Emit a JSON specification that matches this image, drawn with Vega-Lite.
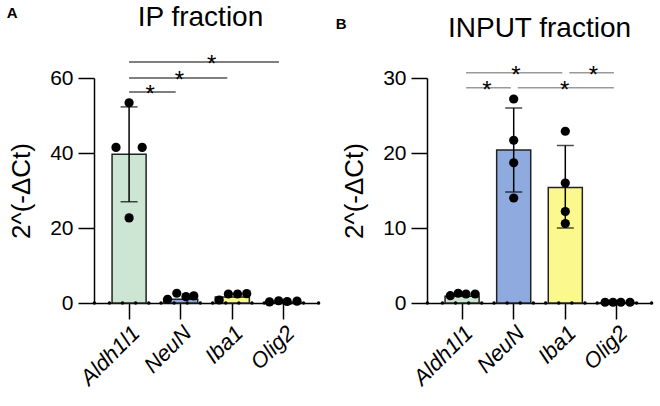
{
  "$schema": "https://vega.github.io/schema/vega-lite/v6.json",
  "background": "white",
  "padding": {"left": 6, "top": 3, "right": 5, "bottom": 5},
  "spacing": 14,
  "config": {
    "font": "Liberation Sans",
    "view": {"stroke": null},
    "axis": {"domainColor": "black", "domainWidth": 1.5, "tickColor": "black", "tickWidth": 1.5, "tickSize": 16, "labelFontSize": 21, "labelColor": "black", "titleFontSize": 26, "titleFontWeight": "normal", "titleColor": "black", "grid": false, "labelFont": "Liberation Sans", "titleFont": "Liberation Sans"},
    "axisX": {"labelAngle": -45, "labelFontStyle": "italic", "labelPadding": 3, "labelFontSize": 22},
    "axisY": {"labelPadding": 5, "titlePadding": 15}
  },
  "datasets": {
    "pts": [
      {"panel": "A", "gene": "Aldh1l1", "type": "bar", "v": 39.7, "lo": 27.0, "hi": 52.3},
      {"panel": "A", "gene": "NeuN", "type": "bar", "v": 1.0},
      {"panel": "A", "gene": "Iba1", "type": "bar", "v": 1.6},
      {"panel": "A", "gene": "Olig2", "type": "bar", "v": 0.2},
      {"panel": "A", "gene": "Aldh1l1", "type": "pt", "v": 53.4, "off": 0},
      {"panel": "A", "gene": "Aldh1l1", "type": "pt", "v": 41.5, "off": -1},
      {"panel": "A", "gene": "Aldh1l1", "type": "pt", "v": 41.5, "off": 1},
      {"panel": "A", "gene": "Aldh1l1", "type": "pt", "v": 22.7, "off": 0},
      {"panel": "A", "gene": "NeuN", "type": "pt", "v": 1.0, "off": -1},
      {"panel": "A", "gene": "NeuN", "type": "pt", "v": 2.6, "off": -0.3},
      {"panel": "A", "gene": "NeuN", "type": "pt", "v": 1.7, "off": 0.4},
      {"panel": "A", "gene": "NeuN", "type": "pt", "v": 1.9, "off": 1},
      {"panel": "A", "gene": "Iba1", "type": "pt", "v": 0.8, "off": -1},
      {"panel": "A", "gene": "Iba1", "type": "pt", "v": 2.4, "off": -0.3},
      {"panel": "A", "gene": "Iba1", "type": "pt", "v": 2.4, "off": 0.4},
      {"panel": "A", "gene": "Iba1", "type": "pt", "v": 2.5, "off": 1.1},
      {"panel": "A", "gene": "Olig2", "type": "pt", "v": 0.3, "off": -1.1},
      {"panel": "A", "gene": "Olig2", "type": "pt", "v": 0.6, "off": -0.4},
      {"panel": "A", "gene": "Olig2", "type": "pt", "v": 0.4, "off": 0.25},
      {"panel": "A", "gene": "Olig2", "type": "pt", "v": 0.5, "off": 1.0},
      {"panel": "A", "gene": "Aldh1l1", "type": "dot", "v": 0, "off": -2.65},
      {"panel": "A", "gene": "Aldh1l1", "type": "dot", "v": 0, "off": -1.5},
      {"panel": "A", "gene": "Aldh1l1", "type": "dot", "v": 0, "off": -0.5},
      {"panel": "A", "gene": "Aldh1l1", "type": "dot", "v": 0, "off": 0.5},
      {"panel": "A", "gene": "Aldh1l1", "type": "dot", "v": 0, "off": 1.5},
      {"panel": "A", "gene": "NeuN", "type": "dot", "v": 0, "off": -1.5},
      {"panel": "A", "gene": "NeuN", "type": "dot", "v": 0, "off": -0.5},
      {"panel": "A", "gene": "NeuN", "type": "dot", "v": 0, "off": 0.5},
      {"panel": "A", "gene": "NeuN", "type": "dot", "v": 0, "off": 1.5},
      {"panel": "A", "gene": "Iba1", "type": "dot", "v": 0, "off": -1.5},
      {"panel": "A", "gene": "Iba1", "type": "dot", "v": 0, "off": -0.5},
      {"panel": "A", "gene": "Iba1", "type": "dot", "v": 0, "off": 0.5},
      {"panel": "A", "gene": "Iba1", "type": "dot", "v": 0, "off": 1.5},
      {"panel": "A", "gene": "Olig2", "type": "dot", "v": 0, "off": -1.5},
      {"panel": "A", "gene": "Olig2", "type": "dot", "v": 0, "off": -0.5},
      {"panel": "A", "gene": "Olig2", "type": "dot", "v": 0, "off": 0.5},
      {"panel": "A", "gene": "Olig2", "type": "dot", "v": 0, "off": 1.5},
      {"panel": "A", "gene": "Olig2", "type": "dot", "v": 0, "off": 2.65},
      {"panel": "B", "gene": "Aldh1l1", "type": "bar", "v": 0.9},
      {"panel": "B", "gene": "NeuN", "type": "bar", "v": 20.4, "lo": 14.8, "hi": 26.0},
      {"panel": "B", "gene": "Iba1", "type": "bar", "v": 15.4, "lo": 10.0, "hi": 21.0},
      {"panel": "B", "gene": "Olig2", "type": "bar", "v": 0.05},
      {"panel": "B", "gene": "Aldh1l1", "type": "pt", "v": 0.97, "off": -0.9},
      {"panel": "B", "gene": "Aldh1l1", "type": "pt", "v": 1.3, "off": -0.3},
      {"panel": "B", "gene": "Aldh1l1", "type": "pt", "v": 1.2, "off": 0.3},
      {"panel": "B", "gene": "Aldh1l1", "type": "pt", "v": 1.2, "off": 1.0},
      {"panel": "B", "gene": "NeuN", "type": "pt", "v": 27.2, "off": 0},
      {"panel": "B", "gene": "NeuN", "type": "pt", "v": 21.7, "off": 0},
      {"panel": "B", "gene": "NeuN", "type": "pt", "v": 18.7, "off": 0},
      {"panel": "B", "gene": "NeuN", "type": "pt", "v": 14.0, "off": 0},
      {"panel": "B", "gene": "Iba1", "type": "pt", "v": 22.9, "off": 0},
      {"panel": "B", "gene": "Iba1", "type": "pt", "v": 16.0, "off": 0},
      {"panel": "B", "gene": "Iba1", "type": "pt", "v": 12.2, "off": 0},
      {"panel": "B", "gene": "Iba1", "type": "pt", "v": 10.6, "off": 0},
      {"panel": "B", "gene": "Olig2", "type": "pt", "v": 0.1, "off": -0.9},
      {"panel": "B", "gene": "Olig2", "type": "pt", "v": 0.1, "off": -0.3},
      {"panel": "B", "gene": "Olig2", "type": "pt", "v": 0.1, "off": 0.3},
      {"panel": "B", "gene": "Olig2", "type": "pt", "v": 0.1, "off": 1.0},
      {"panel": "B", "gene": "Aldh1l1", "type": "dot", "v": 0, "off": -2.65},
      {"panel": "B", "gene": "Aldh1l1", "type": "dot", "v": 0, "off": -1.5},
      {"panel": "B", "gene": "Aldh1l1", "type": "dot", "v": 0, "off": -0.5},
      {"panel": "B", "gene": "Aldh1l1", "type": "dot", "v": 0, "off": 0.5},
      {"panel": "B", "gene": "Aldh1l1", "type": "dot", "v": 0, "off": 1.5},
      {"panel": "B", "gene": "NeuN", "type": "dot", "v": 0, "off": -1.5},
      {"panel": "B", "gene": "NeuN", "type": "dot", "v": 0, "off": -0.5},
      {"panel": "B", "gene": "NeuN", "type": "dot", "v": 0, "off": 0.5},
      {"panel": "B", "gene": "NeuN", "type": "dot", "v": 0, "off": 1.5},
      {"panel": "B", "gene": "Iba1", "type": "dot", "v": 0, "off": -1.5},
      {"panel": "B", "gene": "Iba1", "type": "dot", "v": 0, "off": -0.5},
      {"panel": "B", "gene": "Iba1", "type": "dot", "v": 0, "off": 0.5},
      {"panel": "B", "gene": "Iba1", "type": "dot", "v": 0, "off": 1.5},
      {"panel": "B", "gene": "Olig2", "type": "dot", "v": 0, "off": -1.5},
      {"panel": "B", "gene": "Olig2", "type": "dot", "v": 0, "off": -0.5},
      {"panel": "B", "gene": "Olig2", "type": "dot", "v": 0, "off": 0.5},
      {"panel": "B", "gene": "Olig2", "type": "dot", "v": 0, "off": 1.5},
      {"panel": "B", "gene": "Olig2", "type": "dot", "v": 0, "off": 2.65}
    ],
    "sig": [
      {"panel": "A", "gene": "Aldh1l1", "gene2": "NeuN", "v": 56.3, "off": 1.6},
      {"panel": "A", "gene": "Aldh1l1", "gene2": "Iba1", "v": 60.0, "off": 3.85},
      {"panel": "A", "gene": "Aldh1l1", "gene2": "Olig2", "v": 64.3, "off": 6.3},
      {"panel": "B", "gene": "Aldh1l1", "gene2": "NeuN", "v": 28.7, "off": 1.9},
      {"panel": "B", "gene": "NeuN", "gene2": "Olig2", "v": 28.7, "off": 3.9},
      {"panel": "B", "gene": "Aldh1l1", "gene2": "Iba1", "v": 30.7, "off": 4.1},
      {"panel": "B", "gene": "Iba1", "gene2": "Olig2", "v": 30.7, "off": 2.15}
    ]
  },
  "hconcat": [
    {
      "title": {"text": "A", "anchor": "start", "frame": "bounds", "fontSize": 15, "fontWeight": "bold", "color": "black", "offset": -17, "dx": -2},
      "vconcat": [
        {
          "title": {"text": "IP fraction", "fontSize": 28, "fontWeight": "normal", "color": "black", "anchor": "middle", "frame": "group", "dx": -6, "offset": 21},
          "width": 225,
          "height": 225,
          "resolve": {"scale": {"xOffset": "independent"}},
          "encoding": {
            "x": {"field": "gene", "type": "nominal", "sort": ["Aldh1l1", "NeuN", "Iba1", "Olig2"], "scale": {"paddingInner": 0.34, "paddingOuter": 0.35}, "title": null},
            "color": {"field": "gene", "type": "nominal", "scale": {"domain": ["Aldh1l1", "NeuN", "Iba1", "Olig2"], "range": ["#cde5d3", "#8eaadf", "#fbf98e", "#f2c4c4"]}, "legend": null}
          },
          "layer": [
            {
              "data": {"name": "pts"},
              "transform": [{"filter": "datum.panel == 'A' && datum.type == 'bar'"}],
              "mark": {"type": "bar", "stroke": "#222", "strokeWidth": 1.5, "width": {"band": 1}},
              "encoding": {"y": {"field": "v", "type": "quantitative", "scale": {"domain": [0, 60], "nice": false}, "axis": {"values": [0, 20, 40, 60]}, "title": "2^(-ΔCt)"}}
            },
            {
              "data": {"name": "pts"},
              "transform": [{"filter": "datum.panel == 'A' && datum.type == 'dot'"}],
              "mark": {"type": "circle", "size": 12, "opacity": 1},
              "encoding": {"y": {"field": "v", "type": "quantitative", "title": "2^(-ΔCt)"}, "xOffset": {"field": "off", "type": "quantitative", "scale": {"domain": [-1.3, 1.3]}}, "color": {"value": "black"}}
            },
            {
              "data": {"name": "pts"},
              "transform": [{"filter": "datum.panel == 'A' && datum.type == 'bar' && datum.lo != null"}],
              "mark": {"type": "rule", "strokeWidth": 1.5},
              "encoding": {"y": {"field": "lo", "type": "quantitative", "title": "2^(-ΔCt)"}, "y2": {"field": "hi"}, "color": {"value": "black"}}
            },
            {
              "data": {"name": "pts"},
              "transform": [{"filter": "datum.panel == 'A' && datum.type == 'bar' && datum.lo != null"}],
              "mark": {"type": "tick", "size": 17, "thickness": 1.5, "orient": "horizontal"},
              "encoding": {"y": {"field": "lo", "type": "quantitative", "title": "2^(-ΔCt)"}, "color": {"value": "black"}}
            },
            {
              "data": {"name": "pts"},
              "transform": [{"filter": "datum.panel == 'A' && datum.type == 'bar' && datum.lo != null"}],
              "mark": {"type": "tick", "size": 17, "thickness": 1.5, "orient": "horizontal"},
              "encoding": {"y": {"field": "hi", "type": "quantitative", "title": "2^(-ΔCt)"}, "color": {"value": "black"}}
            },
            {
              "data": {"name": "pts"},
              "transform": [{"filter": "datum.panel == 'A' && datum.type == 'pt'"}],
              "mark": {"type": "circle", "size": 85, "opacity": 1},
              "encoding": {"y": {"field": "v", "type": "quantitative", "title": "2^(-ΔCt)"}, "xOffset": {"field": "off", "type": "quantitative", "scale": {"domain": [-1.3, 1.3]}}, "color": {"value": "black"}}
            },
            {
              "data": {"name": "sig"},
              "transform": [{"filter": "datum.panel == 'A'"}],
              "mark": {"type": "rule", "strokeWidth": 1.5, "x2Offset": -5},
              "encoding": {"x2": {"field": "gene2"}, "y": {"field": "v", "type": "quantitative", "title": "2^(-ΔCt)"}, "color": {"value": "#555555"}}
            },
            {
              "data": {"name": "sig"},
              "transform": [{"filter": "datum.panel == 'A'"}],
              "mark": {"type": "text", "text": "*", "fontSize": 24, "dy": 10, "baseline": "alphabetic"},
              "encoding": {"y": {"field": "v", "type": "quantitative", "title": "2^(-ΔCt)"}, "xOffset": {"field": "off", "type": "quantitative", "scale": {"domain": [-1.3, 1.3]}}, "color": {"value": "black"}}
            }
          ]
        }
      ]
    },
    {
      "title": {"text": "B", "anchor": "start", "frame": "bounds", "fontSize": 15, "fontWeight": "bold", "color": "black", "offset": -17, "dx": -6},
      "vconcat": [
        {
          "title": {"text": "INPUT fraction", "fontSize": 28, "fontWeight": "normal", "color": "black", "anchor": "middle", "frame": "group", "dx": 0, "offset": 21},
          "width": 225,
          "height": 225,
          "resolve": {"scale": {"xOffset": "independent"}},
          "encoding": {
            "x": {"field": "gene", "type": "nominal", "sort": ["Aldh1l1", "NeuN", "Iba1", "Olig2"], "scale": {"paddingInner": 0.34, "paddingOuter": 0.35}, "title": null},
            "color": {"field": "gene", "type": "nominal", "scale": {"domain": ["Aldh1l1", "NeuN", "Iba1", "Olig2"], "range": ["#cde5d3", "#8eaadf", "#fbf98e", "#f2c4c4"]}, "legend": null}
          },
          "layer": [
            {
              "data": {"name": "pts"},
              "transform": [{"filter": "datum.panel == 'B' && datum.type == 'bar'"}],
              "mark": {"type": "bar", "stroke": "#222", "strokeWidth": 1.5, "width": {"band": 1}},
              "encoding": {"y": {"field": "v", "type": "quantitative", "scale": {"domain": [0, 30], "nice": false}, "axis": {"values": [0, 10, 20, 30]}, "title": "2^(-ΔCt)"}}
            },
            {
              "data": {"name": "pts"},
              "transform": [{"filter": "datum.panel == 'B' && datum.type == 'dot'"}],
              "mark": {"type": "circle", "size": 12, "opacity": 1},
              "encoding": {"y": {"field": "v", "type": "quantitative", "title": "2^(-ΔCt)"}, "xOffset": {"field": "off", "type": "quantitative", "scale": {"domain": [-1.3, 1.3]}}, "color": {"value": "black"}}
            },
            {
              "data": {"name": "pts"},
              "transform": [{"filter": "datum.panel == 'B' && datum.type == 'bar' && datum.lo != null"}],
              "mark": {"type": "rule", "strokeWidth": 1.5},
              "encoding": {"y": {"field": "lo", "type": "quantitative", "title": "2^(-ΔCt)"}, "y2": {"field": "hi"}, "color": {"value": "black"}}
            },
            {
              "data": {"name": "pts"},
              "transform": [{"filter": "datum.panel == 'B' && datum.type == 'bar' && datum.lo != null"}],
              "mark": {"type": "tick", "size": 17, "thickness": 1.5, "orient": "horizontal"},
              "encoding": {"y": {"field": "lo", "type": "quantitative", "title": "2^(-ΔCt)"}, "color": {"value": "black"}}
            },
            {
              "data": {"name": "pts"},
              "transform": [{"filter": "datum.panel == 'B' && datum.type == 'bar' && datum.lo != null"}],
              "mark": {"type": "tick", "size": 17, "thickness": 1.5, "orient": "horizontal"},
              "encoding": {"y": {"field": "hi", "type": "quantitative", "title": "2^(-ΔCt)"}, "color": {"value": "black"}}
            },
            {
              "data": {"name": "pts"},
              "transform": [{"filter": "datum.panel == 'B' && datum.type == 'pt'"}],
              "mark": {"type": "circle", "size": 85, "opacity": 1},
              "encoding": {"y": {"field": "v", "type": "quantitative", "title": "2^(-ΔCt)"}, "xOffset": {"field": "off", "type": "quantitative", "scale": {"domain": [-1.3, 1.3]}}, "color": {"value": "black"}}
            },
            {
              "data": {"name": "sig"},
              "transform": [{"filter": "datum.panel == 'B'"}],
              "mark": {"type": "rule", "strokeWidth": 1.5, "xOffset": 4, "x2Offset": -3},
              "encoding": {"x2": {"field": "gene2"}, "y": {"field": "v", "type": "quantitative", "title": "2^(-ΔCt)"}, "color": {"value": "#999999"}}
            },
            {
              "data": {"name": "sig"},
              "transform": [{"filter": "datum.panel == 'B'"}],
              "mark": {"type": "text", "text": "*", "fontSize": 24, "dy": 10, "baseline": "alphabetic"},
              "encoding": {"y": {"field": "v", "type": "quantitative", "title": "2^(-ΔCt)"}, "xOffset": {"field": "off", "type": "quantitative", "scale": {"domain": [-1.3, 1.3]}}, "color": {"value": "black"}}
            }
          ]
        }
      ]
    }
  ]
}
